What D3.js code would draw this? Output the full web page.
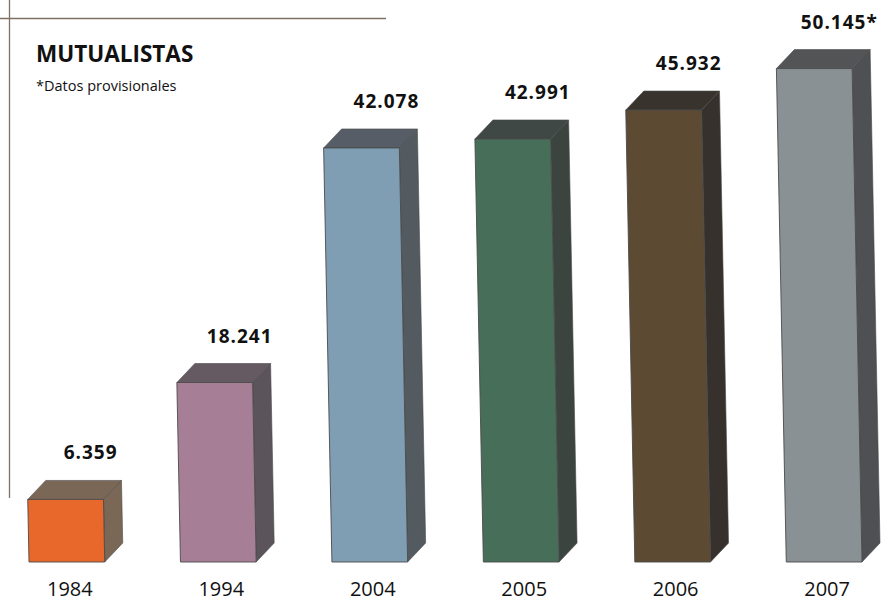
<!DOCTYPE html>
<html><head><meta charset="utf-8">
<script src="https://cdn.jsdelivr.net/npm/d3@7"></script>
<style>html,body{margin:0;padding:0;background:#fff;}svg{display:block;}</style>
</head><body>
<script>
const years = ["1984","1994","2004","2005","2006","2007"];
const values = [6.359, 18.241, 42.078, 42.991, 45.932, 50.145];
const valueLabels = ["6.359","18.241","42.078","42.991","45.932","50.145*"];
const frontColors = ["#e8672a","#a67f96","#7f9eb4","#476e58","#5d4a33","#8a9194"];
const topColors   = ["#7b6756","#655a62","#565d66","#3f4844","#38332d","#535456"];
const sideColors  = ["#7b6756","#5c545b","#535a60","#3c4440","#36312c","#4f5053"];
const title = "MUTUALISTAS";
const note = "*Datos provisionales";

const W = 890, H = 604;
const svg = d3.select("body").append("svg").attr("width", W).attr("height", H);

const x = d3.scaleBand().domain(years).range([29, 862]).paddingInner(0.5).paddingOuter(0);
const y = d3.scaleLinear().domain([0, 50]).range([562, 70]);
const dx = 18, dy = -19, slant = 0.02;
const bw = x.bandwidth();

// frame lines
svg.append("line").attr("x1", 0).attr("x2", 386).attr("y1", 18.5).attr("y2", 18.5)
  .attr("stroke", "#7d7264").attr("stroke-width", 1.3);
svg.append("line").attr("x1", 9.5).attr("x2", 9.5).attr("y1", 0).attr("y2", 498)
  .attr("stroke", "#7d7264").attr("stroke-width", 1.3);

svg.append("text").attr("x", 36).attr("y", 62).text(title)
  .attr("font-family", "Open Sans").attr("font-weight", 700).attr("font-size", 22.5).attr("fill", "#111");
svg.append("text").attr("x", 36).attr("y", 91).text(note)
  .attr("font-family", "Open Sans").attr("font-size", 14.5).attr("fill", "#111");

const data = years.map((yr, i) => ({yr, v: values[i], lab: valueLabels[i], i}));
const g = svg.append("g");
const bars = g.selectAll("g.bar").data(data).enter().append("g").attr("class", "bar");

function geom(d) {
  const yb = y(0), yt = y(d.v), h = yb - yt;
  const xbl = x(d.yr), xtl = xbl - slant * h;
  return {yb, yt, xbl, xtl};
}
const pts = a => a.map(p => p.join(",")).join(" ");

bars.append("polygon").attr("points", d => { const o = geom(d);
    return pts([[o.xtl+bw, o.yt],[o.xtl+bw+dx, o.yt+dy],[o.xbl+bw+dx, o.yb+dy],[o.xbl+bw, o.yb]]); })
  .attr("fill", d => sideColors[d.i]).attr("stroke", "#4a4a4a").attr("stroke-width", 0.6);
bars.append("polygon").attr("points", d => { const o = geom(d);
    return pts([[o.xtl, o.yt],[o.xtl+dx, o.yt+dy],[o.xtl+bw+dx, o.yt+dy],[o.xtl+bw, o.yt]]); })
  .attr("fill", d => topColors[d.i]).attr("stroke", "#4a4a4a").attr("stroke-width", 0.6);
bars.append("polygon").attr("points", d => { const o = geom(d);
    return pts([[o.xtl, o.yt],[o.xtl+bw, o.yt],[o.xbl+bw, o.yb],[o.xbl, o.yb]]); })
  .attr("fill", d => frontColors[d.i]).attr("stroke", "#4a4a4a").attr("stroke-width", 0.9);

bars.append("text").text(d => d.lab)
  .attr("x", d => geom(d).xtl + bw/2 + 25)
  .attr("y", d => y(d.v) + dy - 21)
  .attr("text-anchor", "middle")
  .attr("font-family", "Open Sans").attr("font-weight", 700).attr("font-size", 19)
  .attr("letter-spacing", 1).attr("fill", "#111");

bars.append("text").text(d => d.yr)
  .attr("x", d => x(d.yr) + bw/2 + 3)
  .attr("y", 596)
  .attr("text-anchor", "middle")
  .attr("font-family", "Open Sans").attr("font-size", 20).attr("fill", "#111");
</script>
</body></html>
